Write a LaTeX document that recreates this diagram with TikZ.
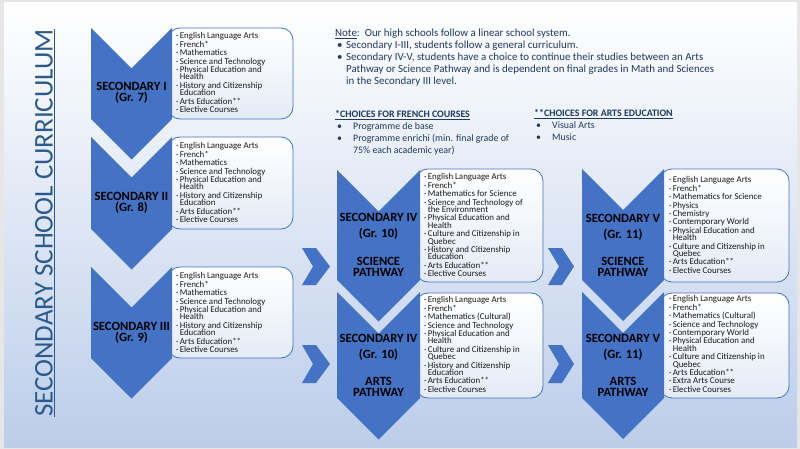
\documentclass[tikz,border=0pt]{standalone}
\usepackage{fontspec}
\setmainfont{Carlito}
\definecolor{chev}{HTML}{4472C4}
\definecolor{navy}{HTML}{1F3864}
\definecolor{ttl}{HTML}{2B5A8C}
\definecolor{bgb}{HTML}{BCCDEA}
\definecolor{boxb}{HTML}{E4EBF6}
\definecolor{frame}{HTML}{E6E6E6}
\newcommand\tightls{\lineskiplimit=-100pt\relax}
\newcommand\ci[1]{\makebox[3.6pt][l]{\textperiodcentered}#1}
\newcommand\cc[1]{\hspace*{3.6pt}#1}
\newcommand\chevd[5]{\fill[chev] (#1,#4) -- (#2,{#4+#2-#1}) -- (#3,#4) -- (#3,#5) -- (#2,{#5+#2-#1}) -- (#1,#5) -- cycle;}
\newcommand\chevr[4]{\fill[chev] (#1,#3) -- ({#1+14},#3) -- (#2,{(#3+#4)/2}) -- ({#1+14},#4) -- (#1,#4) -- ({#1+11},{(#3+#4)/2}) -- cycle;}
\tikzset{
  listbox/.style={shade, top color=white, bottom color=boxb, draw=chev, line width=0.8pt, rounded corners=12pt},
  listtext/.style={anchor=north west, inner sep=0pt, align=left, text=black!90,
    font=\fontsize{8.9}{7.4}\selectfont\tightls},
  chevlabel/.style={inner sep=0pt, align=center, text=black,
    font=\bfseries\fontsize{12.6}{11}\selectfont\tightls},
  chevlabelwide/.style={chevlabel, font=\bfseries\fontsize{12.6}{16}\selectfont\tightls},
  chevlabelpath/.style={chevlabel, font=\bfseries\fontsize{12.6}{11}\selectfont\tightls},
  notetext/.style={anchor=north west, inner sep=0pt, align=left, text=navy,
    font=\fontsize{10.9}{12}\selectfont\tightls},
  choicetext/.style={anchor=north west, inner sep=0pt, align=left, text=navy,
    font=\fontsize{9.9}{12}\selectfont\tightls},
}
\begin{document}
\begin{tikzpicture}[x=1pt,y=-1pt]
\useasboundingbox (0,0) rectangle (800,449);
\fill[frame] (0,0) rectangle (800,449);
\shade[top color=white, bottom color=bgb] (4,3) rectangle (797,447);

% title
\node[rotate=90, inner sep=0pt, text=ttl, font=\fontsize{27}{27}\selectfont] (title) at (45,223) {\underline{SECONDARY SCHOOL CURRICULUM}};

% list boxes
\path[listbox] (168,28) rectangle (293,119);
\path[listbox] (168,137) rectangle (293,229);
\path[listbox] (168,267) rectangle (293,358);
\path[listbox] (416,169) rectangle (543,282);
\path[listbox] (416,293) rectangle (543,398);
\path[listbox] (660,169) rectangle (789,282);
\path[listbox] (660,293) rectangle (789,398);

% chevrons
\chevd{91}{131.5}{172}{28}{119}
\chevd{91}{131.5}{172}{137}{229}
\chevd{91}{131.5}{172}{267}{358}
\chevd{337}{378.5}{420}{170}{280}
\chevd{337}{378.5}{420}{292}{398}
\chevd{582}{623}{664}{169}{280}
\chevd{582}{623}{664}{292}{398}

% small arrows
\chevr{302}{330}{248}{285}
\chevr{302}{330}{345}{383}
\chevr{548}{574}{248}{285}
\chevr{548}{574}{345}{383}

% chevron labels
\node[chevlabel] (s1) at (131.5,92.5) {SECONDARY I\\(Gr. 7)};
\node[chevlabel] (s2) at (131.5,202.5) {SECONDARY II\\(Gr. 8)};
\node[chevlabel] (s3) at (131.5,332.5) {SECONDARY III\\(Gr. 9)};
\node[chevlabelwide] (s4s) at (378.5,226.5) {SECONDARY IV\\(Gr. 10)};
\node[chevlabelpath] (s4sp) at (378.5,266.5) {SCIENCE\\PATHWAY};
\node[chevlabelwide] (s4a) at (378.5,347) {SECONDARY IV\\(Gr. 10)};
\node[chevlabelpath] (s4ap) at (378.5,386.5) {ARTS\\PATHWAY};
\node[chevlabelwide] (s5s) at (623,227) {SECONDARY V\\(Gr. 11)};
\node[chevlabelpath] (s5sp) at (623,266.5) {SCIENCE\\PATHWAY};
\node[chevlabelwide] (s5a) at (623,347) {SECONDARY V\\(Gr. 11)};
\node[chevlabelpath] (s5ap) at (623,386.5) {ARTS\\PATHWAY};

% lists
\node[listtext] (l1) at (176,32.5) {\ci{English Language Arts}\\[1pt]\ci{French*}\\[1pt]\ci{Mathematics}\\[1pt]\ci{Science and Technology}\\[1pt]\ci{Physical Education and}\\\cc{Health}\\[1pt]\ci{History and Citizenship}\\\cc{Education}\\[1pt]\ci{Arts Education**}\\[1pt]\ci{Elective Courses}};
\node[listtext] (l2) at (176,142.5) {\ci{English Language Arts}\\[1pt]\ci{French*}\\[1pt]\ci{Mathematics}\\[1pt]\ci{Science and Technology}\\[1pt]\ci{Physical Education and}\\\cc{Health}\\[1pt]\ci{History and Citizenship}\\\cc{Education}\\[1pt]\ci{Arts Education**}\\[1pt]\ci{Elective Courses}};
\node[listtext] (l3) at (176,272.5) {\ci{English Language Arts}\\[1pt]\ci{French*}\\[1pt]\ci{Mathematics}\\[1pt]\ci{Science and Technology}\\[1pt]\ci{Physical Education and}\\\cc{Health}\\[1pt]\ci{History and Citizenship}\\\cc{Education}\\[1pt]\ci{Arts Education**}\\[1pt]\ci{Elective Courses}};
\node[listtext] (l4s) at (424,173.5) {\ci{English Language Arts}\\[1pt]\ci{French*}\\[1pt]\ci{Mathematics for Science}\\[1pt]\ci{Science and Technology of}\\\cc{the Environment}\\[1pt]\ci{Physical Education and}\\\cc{Health}\\[1pt]\ci{Culture and Citizenship in}\\\cc{Quebec}\\[1pt]\ci{History and Citizenship}\\\cc{Education}\\[1pt]\ci{Arts Education**}\\[1pt]\ci{Elective Courses}};
\node[listtext] (l4a) at (424,296.5) {\ci{English Language Arts}\\[1pt]\ci{French*}\\[1pt]\ci{Mathematics (Cultural)}\\[1pt]\ci{Science and Technology}\\[1pt]\ci{Physical Education and}\\\cc{Health}\\[1pt]\ci{Culture and Citizenship in}\\\cc{Quebec}\\[1pt]\ci{History and Citizenship}\\\cc{Education}\\[1pt]\ci{Arts Education**}\\[1pt]\ci{Elective Courses}};
\node[listtext] (l5s) at (669,176.5) {\ci{English Language Arts}\\[1pt]\ci{French*}\\[1pt]\ci{Mathematics for Science}\\[1pt]\ci{Physics}\\[1pt]\ci{Chemistry}\\[1pt]\ci{Contemporary World}\\[1pt]\ci{Physical Education and}\\\cc{Health}\\[1pt]\ci{Culture and Citizenship in}\\\cc{Quebec}\\[1pt]\ci{Arts Education**}\\[1pt]\ci{Elective Courses}};
\node[listtext] (l5a) at (669,295.5) {\ci{English Language Arts}\\[1pt]\ci{French*}\\[1pt]\ci{Mathematics (Cultural)}\\[1pt]\ci{Science and Technology}\\[1pt]\ci{Contemporary World}\\[1pt]\ci{Physical Education and}\\\cc{Health}\\[1pt]\ci{Culture and Citizenship in}\\\cc{Quebec}\\[1pt]\ci{Arts Education**}\\[1pt]\ci{Extra Arts Course}\\[1pt]\ci{Elective Courses}};

% notes
\node[notetext] (note) at (335,29) {\underline{Note}:\ \ Our high schools follow a linear school system.\\
\makebox[11pt][l]{\hspace{2pt}•}Secondary I-III, students follow a general curriculum.\\
\makebox[11pt][l]{\hspace{2pt}•}Secondary IV-V, students have a choice to continue their studies between an Arts\\
\hspace*{11pt}Pathway or Science Pathway and is dependent on final grades in Math and Sciences\\
\hspace*{11pt}in the Secondary III level.};

\node[choicetext] (fr) at (335,110) {\textbf{\underline{*CHOICES FOR FRENCH COURSES}}\\
\makebox[18pt][l]{\hspace{2pt}•}Programme de base\\
\makebox[18pt][l]{\hspace{2pt}•}Programme enrichi (min. final grade of\\
\hspace*{18pt}75\% each academic year)};

\node[choicetext] (ar) at (534,109) {\textbf{\underline{**CHOICES FOR ARTS EDUCATION}}\\
\makebox[18pt][l]{\hspace{2pt}•}Visual Arts\\
\makebox[18pt][l]{\hspace{2pt}•}Music};
\end{tikzpicture}
\end{document}
